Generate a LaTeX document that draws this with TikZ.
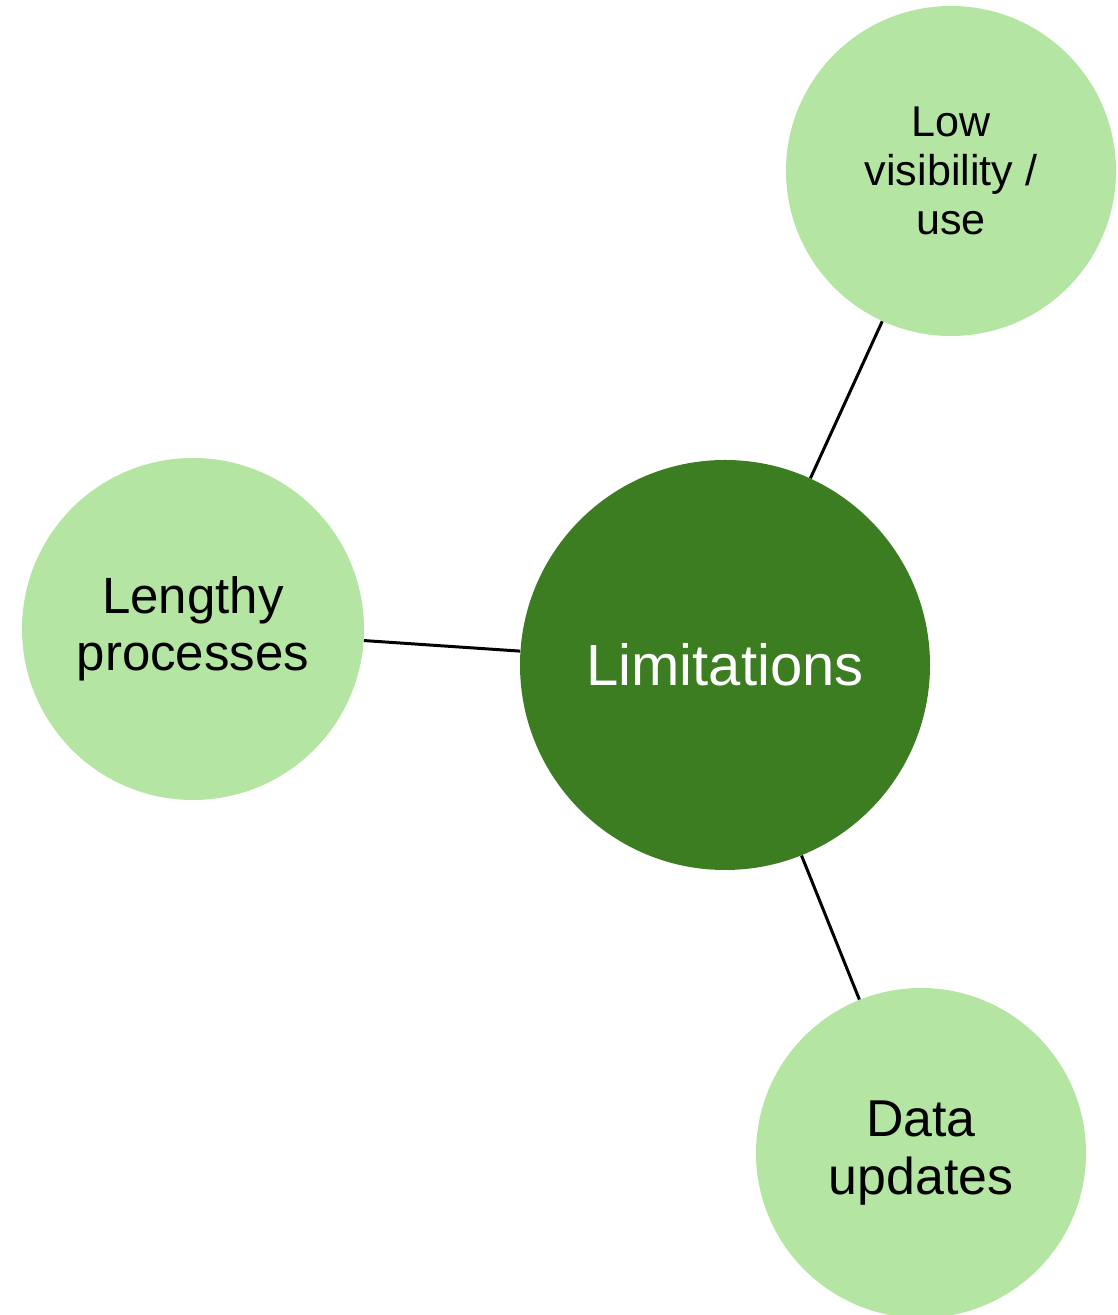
\documentclass[tikz,border=0pt]{standalone}
\usepackage{fontspec}
\setmainfont{Liberation Sans}
\usetikzlibrary{positioning}
\definecolor{leafgreen}{HTML}{B4E5A2}
\definecolor{hubgreen}{HTML}{3C7D22}

\begin{document}
\begin{tikzpicture}[
    hub/.style={draw=none, circle, fill=hubgreen, text=white, minimum size=8.2cm, align=center, font=\fontsize{33}{40}\selectfont},
    leaf/.style={draw=none, circle, fill=leafgreen, text=black, align=center, inner sep=0pt},
    link/.style={line width=1.7pt, black}
]
    \useasboundingbox (0,0) rectangle (22.34,26.3);

    % Centre
    \node[hub] (limits) at (14.50,13.00) {Limitations};

    % Low visibility / use
    \node[leaf, minimum size=6.6cm, font=\fontsize{24.5}{28}\selectfont] (lowvis) at (19.02,22.88) {Low\\visibility /\\use};

    % Lengthy processes
    \node[leaf, minimum size=6.84cm, font=\fontsize{29}{32.5}\selectfont] (lengthy) at (3.86,13.72) {Lengthy\\processes};

    % Data updates
    \node[leaf, minimum size=6.6cm, font=\fontsize{29.5}{33}\selectfont] (updates) at (18.42,3.24) {Data\\updates};

    \draw[link] (limits) -- (lowvis);
    \draw[link] (limits) -- (lengthy);
    \draw[link] (limits) -- (updates);
\end{tikzpicture}
\end{document}
